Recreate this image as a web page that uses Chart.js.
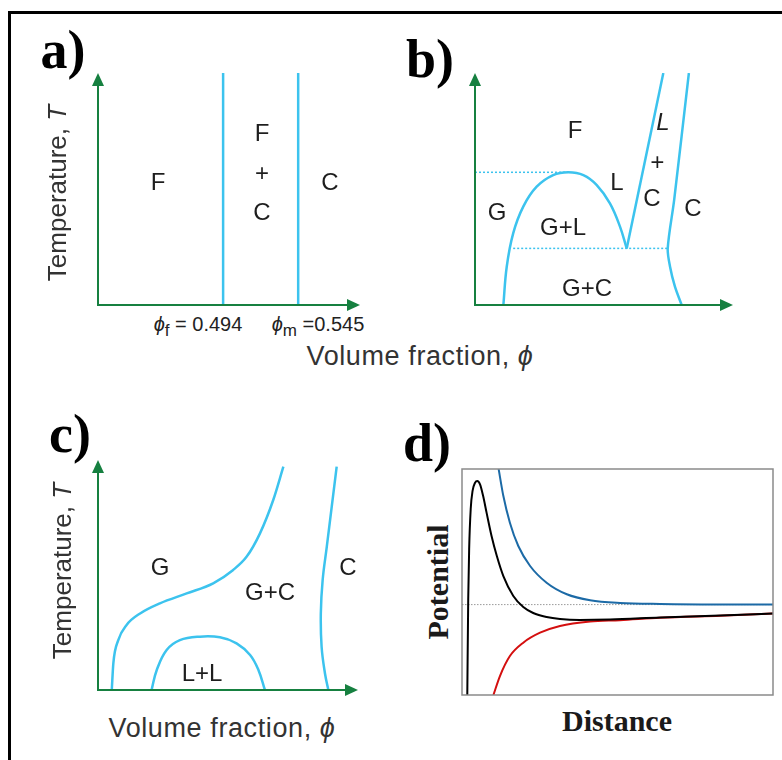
<!DOCTYPE html>
<html>
<head>
<meta charset="utf-8">
<script src="https://cdn.jsdelivr.net/npm/chart.js@4/dist/chart.umd.min.js"></script>
<style>
  html,body{margin:0;padding:0;background:#fff;}
  #wrap{position:relative;width:782px;height:760px;overflow:hidden;background:#fff;
        font-family:"Liberation Sans",Arial,Helvetica,sans-serif;color:#262626;}
  canvas{position:absolute;}
  .t{position:absolute;transform:translate(-50%,-50%);white-space:nowrap;line-height:1;}
  .lab{font-size:24px;color:#1e1e1e;}
  .ax{font-size:26px;color:#333;}
  .vf{font-size:27px;letter-spacing:0.6px;}
  .rot{transform:translate(-50%,-50%) rotate(-90deg);}
  .pan{font-family:"Liberation Serif","Times New Roman",serif;font-weight:bold;font-size:54px;color:#000;}
  .ser{font-family:"Liberation Serif","Times New Roman",serif;font-weight:bold;font-size:30px;color:#1a1a1a;}
  .phi{font-size:20px;color:#222;}
  .phi sub{font-size:17px;vertical-align:-5px;line-height:0;}
  #frame{position:absolute;left:8px;top:11px;width:900px;height:900px;border-top:3px solid #000;border-left:3px solid #000;}
</style>
</head>
<body>
<div id="wrap">
  <div id="frame"></div>

  <canvas id="ca" width="278" height="248" style="left:90px;top:65px"></canvas>
  <canvas id="cb" width="274" height="248" style="left:467px;top:65px"></canvas>
  <canvas id="cc" width="276" height="246" style="left:90px;top:452px"></canvas>
  <canvas id="cd" width="327" height="242" style="left:454px;top:461px"></canvas>

  <!-- panel letters -->
  <div class="t pan" style="left:63px;top:50px">a)</div>
  <div class="t pan" style="left:430px;top:59px">b)</div>
  <div class="t pan" style="left:70px;top:434px">c)</div>
  <div class="t pan" style="left:427px;top:443px">d)</div>

  <!-- panel a texts -->
  <div class="t ax rot" style="left:57px;top:193px">Temperature, <i>T</i></div>
  <div class="t lab" style="left:158px;top:182px">F</div>
  <div class="t lab" style="left:262px;top:133px">F</div>
  <div class="t lab" style="left:262px;top:173px">+</div>
  <div class="t lab" style="left:262px;top:212px">C</div>
  <div class="t lab" style="left:330px;top:182px">C</div>
  <div class="t phi" style="left:198px;top:324px"><i>ϕ</i><sub>f</sub> = 0.494</div>
  <div class="t phi" style="left:318px;top:324px"><i>ϕ</i><sub>m</sub> =0.545</div>
  <div class="t ax vf" style="left:420px;top:356px">Volume fraction, <i>ϕ</i></div>

  <!-- panel b texts -->
  <div class="t lab" style="left:575px;top:130px">F</div>
  <div class="t lab" style="left:663px;top:122px"><i>L</i></div>
  <div class="t lab" style="left:657px;top:162px"><i>+</i></div>
  <div class="t lab" style="left:652px;top:198px">C</div>
  <div class="t lab" style="left:617px;top:182px">L</div>
  <div class="t lab" style="left:497px;top:212px">G</div>
  <div class="t lab" style="left:563px;top:227px">G+L</div>
  <div class="t lab" style="left:693px;top:208px">C</div>
  <div class="t lab" style="left:587px;top:288px">G+C</div>

  <!-- panel c texts -->
  <div class="t ax rot" style="left:62px;top:571px">Temperature, <i>T</i></div>
  <div class="t lab" style="left:160px;top:567px">G</div>
  <div class="t lab" style="left:270px;top:592px">G+C</div>
  <div class="t lab" style="left:348px;top:567px">C</div>
  <div class="t lab" style="left:202px;top:673px">L+L</div>
  <div class="t ax vf" style="left:222px;top:728px">Volume fraction, <i>ϕ</i></div>

  <!-- panel d texts -->
  <div class="t ser rot" style="left:438px;top:582px">Potential</div>
  <div class="t ser" style="left:617px;top:721px">Distance</div>
</div>

<script>
// ---------------- DATA ----------------
// Panel a: fluid / crystal boundaries (hard spheres)
const aBoundaryPhi = [0.494, 0.545];          // phi_f, phi_m
const aTempSpan    = [0, 1];                   // lines span the whole T axis

// Panel b: gas-liquid dome ending at the triple point
const bDomePhi = [0.110, 0.123, 0.148, 0.187, 0.239, 0.303, 0.362, 0.420, 0.472, 0.523, 0.562, 0.588];
const bDomeT   = [0.000, 0.165, 0.309, 0.424, 0.510, 0.560, 0.572, 0.560, 0.517, 0.438, 0.338, 0.244];
// liquid side of the liquid + crystal coexistence
const bLiqPhi  = [0.588, 0.730];
const bLiqT    = [0.244, 1.000];
// crystal boundary
const bCrysPhi = [0.801, 0.775, 0.756, 0.747, 0.772, 0.829];
const bCrysT   = [0.000, 0.079, 0.165, 0.244, 0.453, 1.000];
// dotted critical and triple lines
const bCritPhi   = [0.000, 0.362];
const bCritT     = [0.572, 0.572];
const bTriplePhi = [0.148, 0.747];
const bTripleT   = [0.244, 0.244];

// Panel c: short-range attraction, metastable L+L
const cGasPhi  = [0.053, 0.059, 0.078, 0.110, 0.162, 0.238, 0.341, 0.443, 0.520, 0.572, 0.623, 0.674, 0.713];
const cGasT    = [0.000, 0.116, 0.217, 0.283, 0.333, 0.377, 0.420, 0.464, 0.522, 0.580, 0.681, 0.826, 0.971];
const cLLPhi   = [0.206, 0.226, 0.264, 0.315, 0.392, 0.469, 0.533, 0.585, 0.617, 0.642];
const cLLT     = [0.000, 0.087, 0.174, 0.217, 0.232, 0.229, 0.203, 0.152, 0.087, 0.000];
const cCrysPhi = [0.886, 0.873, 0.860, 0.857, 0.864, 0.880, 0.899, 0.918];
const cCrysT   = [0.000, 0.072, 0.188, 0.333, 0.478, 0.623, 0.797, 0.971];

// Panel d: pair potentials vs distance
const dTotalR = [0.17, 0.20, 0.23, 0.28, 0.34, 0.42, 0.49, 0.58, 0.68, 0.79, 0.95, 1.12, 1.33, 1.65, 1.97, 2.29, 2.72, 3.15, 3.79, 4.76, 6.37, 8.30, 10.0];
const dTotalU = [-1.00, 0.062, 0.615, 1.058, 1.257, 1.348, 1.367, 1.331, 1.201, 1.017, 0.759, 0.538, 0.316, 0.095, -0.027, -0.093, -0.137, -0.159, -0.170, -0.165, -0.143, -0.121, -0.098];
const dRepR   = [1.17, 1.33, 1.54, 1.81, 2.19, 2.72, 3.37, 4.12, 5.08, 6.37, 10.0];
const dRepU   = [1.516, 1.201, 0.906, 0.648, 0.427, 0.242, 0.114, 0.048, 0.018, 0.007, 0.000];
const dAttR   = [1.01, 1.22, 1.54, 1.97, 2.51, 3.15, 4.12, 5.08, 6.37, 8.30, 10.0];
const dAttU   = [-1.00, -0.790, -0.569, -0.421, -0.311, -0.237, -0.187, -0.172, -0.145, -0.122, -0.099];
const dZeroR  = [0, 10];
const dZeroU  = [0, 0];

// ---------------- STYLE / HELPERS ----------------
const CYAN  = '#3cc3ee';
const GREEN = '#168040';
const pts = (xs, ys) => xs.map((x, i) => ({x: x, y: ys[i]}));

const greenAxes = {
  id: 'greenAxes',
  afterDatasetsDraw(chart) {
    const {ctx, chartArea: {left, right, top, bottom}} = chart;
    ctx.save();
    ctx.strokeStyle = GREEN; ctx.fillStyle = GREEN; ctx.lineWidth = 2;
    ctx.beginPath();
    ctx.moveTo(left, top + 10); ctx.lineTo(left, bottom); ctx.lineTo(right - 10, bottom);
    ctx.stroke();
    ctx.beginPath(); ctx.moveTo(left, top); ctx.lineTo(left - 6, top + 13); ctx.lineTo(left + 6, top + 13); ctx.closePath(); ctx.fill();
    ctx.beginPath(); ctx.moveTo(right, bottom); ctx.lineTo(right - 13, bottom - 6); ctx.lineTo(right - 13, bottom + 6); ctx.closePath(); ctx.fill();
    ctx.restore();
  }
};
const grayBox = {
  id: 'grayBox',
  afterDatasetsDraw(chart) {
    const {ctx, chartArea: {left, right, top, bottom}} = chart;
    ctx.save();
    ctx.strokeStyle = '#8a8a8a'; ctx.lineWidth = 1.5;
    ctx.strokeRect(left, top, right - left, bottom - top);
    ctx.restore();
  }
};

function line(data, color, width, extra) {
  return Object.assign({data: data, borderColor: color, borderWidth: width, pointRadius: 0,
    fill: false, tension: 0.4}, extra || {});
}

function makeChart(id, xr, yr, datasets, plugins) {
  return new Chart(document.getElementById(id), {
    type: 'line',
    data: {datasets: datasets},
    options: {
      responsive: false, animation: false, events: [],
      layout: {padding: 8},
      plugins: {legend: {display: false}, tooltip: {enabled: false}},
      scales: {
        x: {type: 'linear', min: xr[0], max: xr[1], display: false},
        y: {type: 'linear', min: yr[0], max: yr[1], display: false}
      }
    },
    plugins: plugins
  });
}

// ---------------- CHARTS ----------------
makeChart('ca', [0.409, 0.587], [0, 1], aBoundaryPhi.map(p =>
  line(pts([p, p], aTempSpan), CYAN, 2.5, {tension: 0})), [greenAxes]);

makeChart('cb', [0, 1], [0, 1], [
  line(pts(bDomePhi, bDomeT), CYAN, 2.5),
  line(pts(bLiqPhi, bLiqT), CYAN, 2.5, {tension: 0}),
  line(pts(bCrysPhi, bCrysT), CYAN, 2.5, {tension: 0.3}),
  line(pts(bCritPhi, bCritT), CYAN, 1.5, {tension: 0, borderDash: [2, 2]}),
  line(pts(bTriplePhi, bTripleT), CYAN, 1.5, {tension: 0, borderDash: [2, 2]})
], [greenAxes]);

makeChart('cc', [0, 1], [0, 1], [
  line(pts(cGasPhi, cGasT), CYAN, 2.5, {cubicInterpolationMode: 'monotone'}),
  line(pts(cLLPhi, cLLT), CYAN, 2.5),
  line(pts(cCrysPhi, cCrysT), CYAN, 2.5)
], [greenAxes]);

// first dataset is drawn on top: total (black) over repulsion, attraction and the zero line
makeChart('cd', [0, 10], [-1, 1.5], [
  line(pts(dTotalR, dTotalU), '#000000', 2, {cubicInterpolationMode: 'monotone'}),
  line(pts(dRepR, dRepU), '#1c6aa6', 2, {cubicInterpolationMode: 'monotone'}),
  line(pts(dAttR, dAttU), '#d40f0f', 2, {cubicInterpolationMode: 'monotone'}),
  line(pts(dZeroR, dZeroU), '#9a9a9a', 1, {tension: 0, borderDash: [1.5, 1.5]})
], [grayBox]);
</script>
</body>
</html>
